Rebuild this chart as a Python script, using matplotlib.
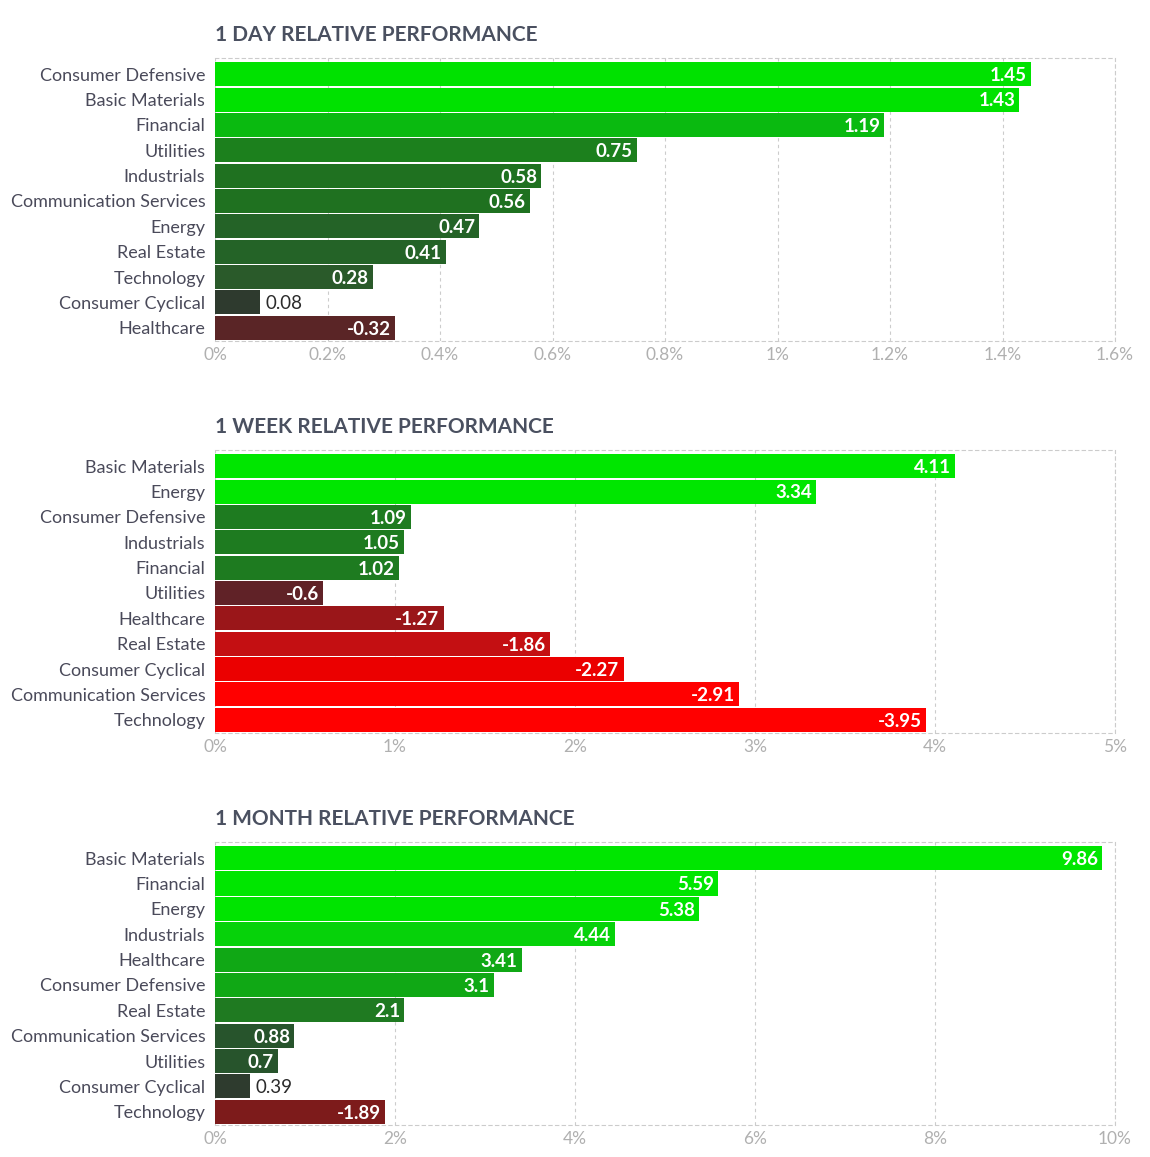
import matplotlib
matplotlib.use('Agg')
import matplotlib.pyplot as plt

plt.rcParams['font.family'] = ['Lato', 'DejaVu Sans']

# 1 day
day_names = ['Consumer Defensive', 'Basic Materials', 'Financial', 'Utilities', 'Industrials',
             'Communication Services', 'Energy', 'Real Estate', 'Technology', 'Consumer Cyclical', 'Healthcare']
day_values = [1.45, 1.43, 1.19, 0.75, 0.58, 0.56, 0.47, 0.41, 0.28, 0.08, -0.32]
day_colors = ['#00e200', '#00e200', '#0aba10', '#1c801d', '#1f7120', '#1f7120', '#246327', '#246327',
              '#2a5a2a', '#2e3a2e', '#5a2526']
day_ticks = [0, 0.2, 0.4, 0.6, 0.8, 1.0, 1.2, 1.4, 1.6]

# 1 week
week_names = ['Basic Materials', 'Energy', 'Consumer Defensive', 'Industrials', 'Financial', 'Utilities',
              'Healthcare', 'Real Estate', 'Consumer Cyclical', 'Communication Services', 'Technology']
week_values = [4.11, 3.34, 1.09, 1.05, 1.02, -0.6, -1.27, -1.86, -2.27, -2.91, -3.95]
week_colors = ['#00e600', '#00e600', '#1e7b20', '#1e7b20', '#1e7b20', '#602227', '#9a1619', '#c40f12',
               '#eb0000', '#ff0000', '#ff0000']
week_ticks = [0, 1, 2, 3, 4, 5]

# 1 month
month_names = ['Basic Materials', 'Financial', 'Energy', 'Industrials', 'Healthcare', 'Consumer Defensive',
               'Real Estate', 'Communication Services', 'Utilities', 'Consumer Cyclical', 'Technology']
month_values = [9.86, 5.59, 5.38, 4.44, 3.41, 3.1, 2.1, 0.88, 0.7, 0.39, -1.89]
month_colors = ['#00e600', '#00e600', '#00e400', '#06d20a', '#10a815', '#10a815', '#1f7a21',
                '#27542c', '#27542c', '#2e3b2e', '#7d1b1b']
month_ticks = [0, 2, 4, 6, 8, 10]

panels = [
    ('1 DAY RELATIVE PERFORMANCE', day_names, day_values, day_colors, day_ticks, 0.7053),
    ('1 WEEK RELATIVE PERFORMANCE', week_names, week_values, week_colors, week_ticks, 0.3665),
    ('1 MONTH RELATIVE PERFORMANCE', month_names, month_values, month_colors, month_ticks, 0.0277),
]

fig = plt.figure(figsize=(11.5, 11.57), dpi=100)
grid_color = '#cccccc'

for title, names, values, colors, ticks, bottom in panels:
    ax = fig.add_axes([0.187, bottom, 0.7826, 0.2446])
    xmax = ticks[-1]
    widths = [abs(v) for v in values]
    ypos = list(range(len(names)))
    ax.barh(ypos, widths, height=0.95, color=colors, zorder=3)

    # value labels: inside the bar unless it is too short
    for y, w, v in zip(ypos, widths, values):
        label = '{:g}'.format(v)
        if w / xmax < 0.06:
            ax.annotate(label, (w, y), xytext=(4, -1), textcoords='offset points',
                        ha='left', va='center', fontsize=13.5, color='#2b2b2b', zorder=4)
        else:
            ax.annotate(label, (w, y), xytext=(-3, -1), textcoords='offset points',
                        ha='right', va='center', fontsize=13.5, color='white',
                        fontweight='bold', zorder=4)

    ax.set_xlim(0, xmax)
    ax.set_ylim(10.52, -0.64)
    ax.set_yticks(ypos)
    ax.set_yticklabels(names, fontsize=13, color='#4a4a5a')
    ax.set_xticks(ticks)
    ax.set_xticklabels(['{:g}%'.format(t) for t in ticks], fontsize=12.5, color='#b0b0b0')
    ax.tick_params(axis='both', length=0)
    ax.tick_params(axis='y', pad=7)
    ax.tick_params(axis='x', pad=4)

    for t in ticks:
        ax.axvline(t, color=grid_color, linestyle=(0, (3, 3)), linewidth=0.8, zorder=1)
    ax.spines['left'].set_visible(False)
    for s in ['top', 'bottom', 'right']:
        ax.spines[s].set_color(grid_color)
        ax.spines[s].set_linestyle((0, (3, 3)))
        ax.spines[s].set_linewidth(0.8)

    ax.set_title(title, loc='left', fontsize=15, fontweight='bold', color='#4a5060', pad=12)

fig.savefig('out.png', dpi=100)
